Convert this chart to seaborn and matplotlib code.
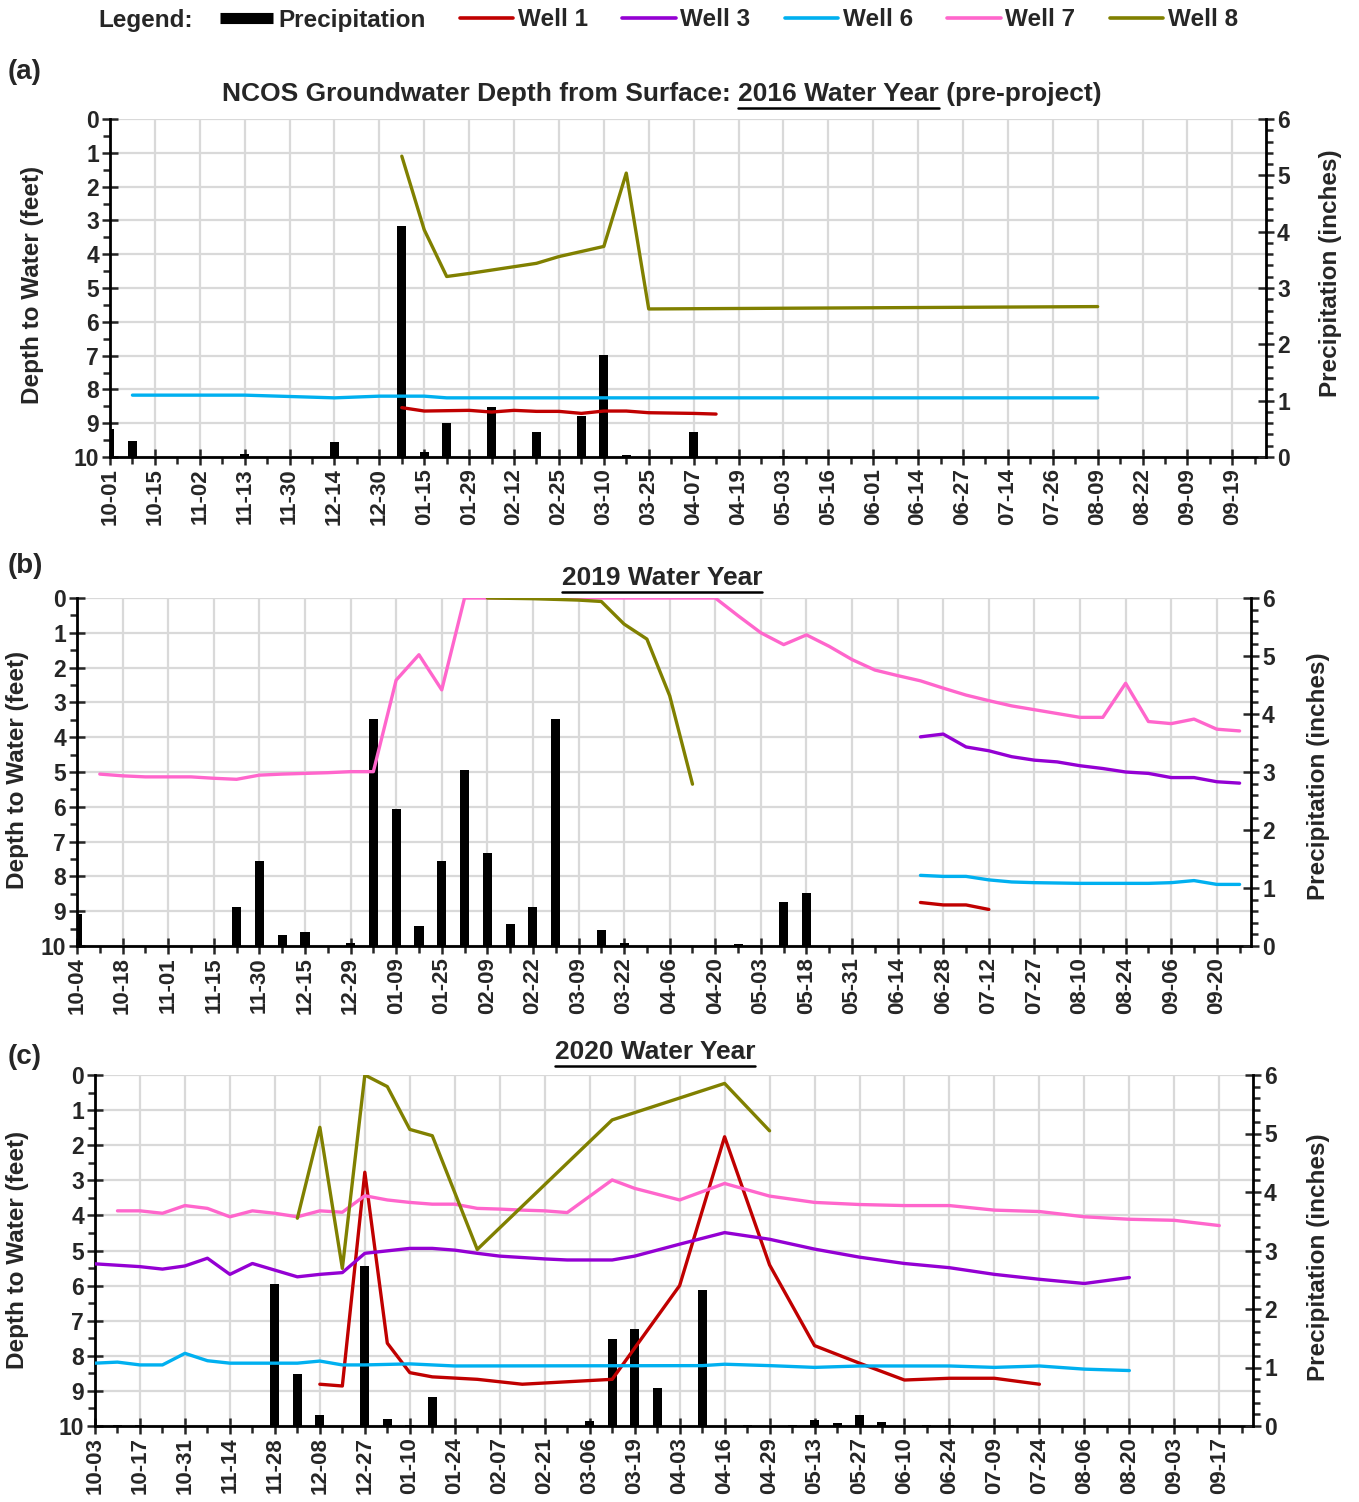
import numpy as np
import pandas as pd
import matplotlib
matplotlib.use("Agg")
import matplotlib.pyplot as plt
import seaborn as sns
from matplotlib.lines import Line2D
from matplotlib.ticker import MultipleLocator, FixedLocator

sns.set_theme(style="ticks")
plt.rcParams["font.family"] = ["Liberation Sans", "DejaVu Sans"]
plt.rcParams["font.weight"] = "bold"

# ---------------- data ----------------
# tick labels (every other sampling period is labelled)
A_LABELS = ["10-01", "10-15", "11-02", "11-13", "11-30", "12-14", "12-30", "01-15", "01-29",
            "02-12", "02-25", "03-10", "03-25", "04-07", "04-19", "05-03", "05-16", "06-01",
            "06-14", "06-27", "07-14", "07-26", "08-09", "08-22", "09-09", "09-19"]
B_LABELS = ["10-04", "10-18", "11-01", "11-15", "11-30", "12-15", "12-29", "01-09", "01-25",
            "02-09", "02-22", "03-09", "03-22", "04-06", "04-20", "05-03", "05-18", "05-31",
            "06-14", "06-28", "07-12", "07-27", "08-10", "08-24", "09-06", "09-20"]
C_LABELS = ["10-03", "10-17", "10-31", "11-14", "11-28", "12-08", "12-27", "01-10", "01-24",
            "02-07", "02-21", "03-06", "03-19", "04-03", "04-16", "04-29", "05-13", "05-27",
            "06-10", "06-24", "07-09", "07-24", "08-06", "08-20", "09-03", "09-17"]

# precipitation (inches) per sampling period (52 periods)
A_PRECIP = [0.5, 0.29, 0, 0, 0, 0, 0.06, 0, 0, 0,
            0.26, 0, 0, 4.1, 0.09, 0.6, 0, 0.88, 0, 0.45,
            0, 0.72, 1.81, 0.03, 0, 0, 0.45, 0, 0, 0,
            0.02, 0, 0, 0, 0, 0, 0, 0, 0, 0,
            0, 0, 0, 0, 0, 0, 0, 0, 0, 0,
            0, 0]
B_PRECIP = [0.55, 0, 0, 0, 0, 0, 0, 0.67, 1.47, 0.19,
            0.25, 0, 0.06, 3.92, 2.36, 0.35, 1.47, 3.04, 1.6, 0.38,
            0.67, 3.92, 0, 0.28, 0.05, 0, 0, 0, 0, 0.04,
            0, 0.76, 0.92, 0, 0, 0, 0, 0, 0, 0,
            0, 0, 0, 0, 0, 0, 0, 0, 0, 0,
            0, 0]
C_PRECIP = [0, 0.02, 0.02, 0, 0, 0, 0, 0, 2.42, 0.89,
            0.19, 0, 2.74, 0.12, 0.02, 0.5, 0, 0, 0, 0,
            0, 0, 0.08, 1.48, 1.66, 0.65, 0, 2.32, 0, 0.01,
            0, 0.01, 0.1, 0.05, 0.19, 0.07, 0, 0.01, 0.02, 0,
            0, 0, 0, 0, 0, 0, 0, 0, 0, 0,
            0, 0]

# well depths (feet below surface): sampling period index + value
A_W1_IDX = [13, 14, 16, 17, 18, 19, 20, 21, 22, 23, 24, 26, 27]
A_W1 = [8.54, 8.64, 8.62, 8.67, 8.62, 8.65, 8.65, 8.71, 8.64, 8.64, 8.69, 8.71, 8.73]
A_W6_IDX = [1, 6, 9, 10, 12, 14, 15, 44]
A_W6 = [8.17, 8.17, 8.23, 8.25, 8.2, 8.2, 8.25, 8.25]
A_W8_IDX = [13, 14, 15, 16, 17, 18, 19, 20, 21, 22, 23, 24, 44]
A_W8 = [1.1, 3.28, 4.66, 4.57, 4.47, 4.37, 4.27, 4.07, 3.92, 3.77, 1.6, 5.62, 5.55]

B_W1_IDX = [37, 38, 39, 40]
B_W1 = [8.75, 8.82, 8.82, 8.95]
B_W3_IDX = list(range(37, 52))
B_W3 = [3.99, 3.91, 4.28, 4.39, 4.56, 4.66, 4.71, 4.82, 4.9, 5.0, 5.04, 5.16, 5.16, 5.28, 5.32]
B_W6_IDX = list(range(37, 52))
B_W6 = [7.97, 8.0, 8.0, 8.1, 8.16, 8.18, 8.19, 8.2, 8.2, 8.2, 8.2, 8.18, 8.12, 8.23, 8.23]
B_W7_IDX = list(range(1, 18)) + list(range(28, 52))
B_W7 = [5.06, 5.11, 5.14, 5.14, 5.14, 5.18, 5.21, 5.09, 5.06, 5.04, 5.02, 4.99, 4.99,
        2.36, 1.63, 2.64, 0.0,
        0.0, 0.51, 1.0, 1.34, 1.06, 1.39, 1.77, 2.07, 2.23, 2.38, 2.59, 2.79, 2.95, 3.1,
        3.21, 3.32, 3.43, 3.43, 2.45, 3.55, 3.61, 3.48, 3.77, 3.82]
B_W8_IDX = [18, 20, 22, 23, 24, 25, 26, 27]
B_W8 = [0.0, 0.02, 0.06, 0.1, 0.75, 1.18, 2.81, 5.35]

C_W1_IDX = [10, 11, 12, 13, 14, 15, 17, 19, 21, 23, 26, 28, 30, 32, 34, 36, 38, 40, 42]
C_W1 = [8.81, 8.86, 2.77, 7.64, 8.48, 8.6, 8.67, 8.81, 8.74, 8.67, 6.0, 1.76, 5.41, 7.71,
        8.21, 8.69, 8.64, 8.64, 8.81]
C_W3_IDX = [0, 2, 3, 4, 5, 6, 7, 8, 9, 10, 11, 12, 13, 14, 15, 16, 17, 18, 19, 20, 21, 23,
            24, 26, 28, 30, 32, 34, 36, 38, 40, 42, 44, 46]
C_W3 = [5.38, 5.46, 5.53, 5.44, 5.22, 5.68, 5.37, 5.56, 5.75, 5.68, 5.63, 5.08, 5.01, 4.94,
        4.94, 4.99, 5.08, 5.16, 5.2, 5.24, 5.27, 5.27, 5.16, 4.82, 4.49, 4.68, 4.96, 5.19,
        5.37, 5.49, 5.68, 5.82, 5.94, 5.77]
C_W6_IDX = [0, 1, 2, 3, 4, 5, 6, 9, 10, 11, 12, 14, 16, 27, 28, 30, 32, 34, 36, 38, 40, 42, 44, 46]
C_W6 = [8.21, 8.18, 8.26, 8.26, 7.93, 8.14, 8.21, 8.21, 8.15, 8.26, 8.26, 8.23, 8.29, 8.28,
        8.24, 8.28, 8.33, 8.29, 8.29, 8.29, 8.33, 8.29, 8.38, 8.42]
C_W7_IDX = [1, 2, 3, 4, 5, 6, 7, 8, 9, 10, 11, 12, 13, 14, 15, 16, 17, 18, 19, 20, 21, 23, 24,
            26, 28, 30, 32, 34, 36, 38, 40, 42, 44, 46, 48, 50]
C_W7 = [3.87, 3.87, 3.94, 3.72, 3.8, 4.04, 3.87, 3.94, 4.04, 3.87, 3.91, 3.44, 3.56, 3.63,
        3.68, 3.68, 3.8, 3.82, 3.85, 3.87, 3.92, 2.99, 3.23, 3.56, 3.09, 3.45, 3.63, 3.69,
        3.72, 3.72, 3.85, 3.89, 4.04, 4.11, 4.14, 4.29]
C_W8_IDX = [9, 10, 11, 12, 13, 14, 15, 17, 23, 28, 30]
C_W8 = [4.08, 1.49, 5.51, 0.0, 0.33, 1.55, 1.73, 4.97, 1.28, 0.24, 1.59]

COLORS = {"Well 1": "#C00000", "Well 3": "#9400D3", "Well 6": "#00B0F0",
          "Well 7": "#FF66CC", "Well 8": "#808000"}

# ---------------- figure ----------------
W, H = 1359, 1502
fig = plt.figure(figsize=(W / 100, H / 100), dpi=100)
FS = 16        # tick labels
FS_LAB = 17.5  # axis titles
FS_TTL = 19    # panel titles
FS_LEG = 17.5
GRID = "#d9d9d9"


def rect(l, r, t, b):
    return [l / W, 1 - b / H, (r - l) / W, (b - t) / H]


def panel(box, labels, precip, wells):
    ax = fig.add_axes(box)
    ax2 = ax.twinx()
    ax3 = ax.twinx()
    n = len(precip)
    dfp = pd.DataFrame({"period": np.arange(n), "precip": precip})
    sns.barplot(data=dfp, x="period", y="precip", native_scale=True, width=0.4,
                color="black", saturation=1, linewidth=0, errorbar=None, ax=ax2)
    for name, idx, vals in wells:
        dfw = pd.DataFrame({"period": idx, "depth": vals})
        sns.lineplot(data=dfw, x="period", y="depth", color=COLORS[name], linewidth=2.4,
                     ax=ax3, legend=False)
    for a in (ax, ax2, ax3):
        a.set_xlim(0, 51.5)
        a.set_xlabel("")
        a.set_ylabel("")
    ax.set_ylim(10, 0)
    ax3.set_ylim(10, 0)
    ax2.set_ylim(0, 6)
    ax3.set_axis_off()
    # x axis
    ax.xaxis.set_major_locator(FixedLocator(np.arange(0, 2 * len(labels), 2)))
    ax.xaxis.set_minor_locator(FixedLocator(np.arange(1, n, 2)))
    ax.set_xticklabels(labels, rotation=90, fontsize=FS, fontweight="bold")
    ax.yaxis.set_major_locator(FixedLocator(np.arange(0, 11)))
    ax.yaxis.set_minor_locator(MultipleLocator(0.5))
    ax.set_yticklabels([str(v) for v in range(11)], fontsize=FS + 0.5, fontweight="bold")
    ax.tick_params(axis="x", which="major", direction="inout", length=12, width=1.8, pad=2)
    ax.tick_params(axis="x", which="minor", direction="out", length=5, width=1.8)
    ax.tick_params(axis="y", which="major", direction="inout", length=12, width=1.8, pad=2)
    ax.tick_params(axis="y", which="minor", direction="out", length=5, width=1.8)
    ax.grid(True, which="major", color=GRID, linewidth=1.6)
    ax.set_axisbelow(True)
    for s in ("top", "right"):
        ax.spines[s].set_visible(False)
    for s in ("left", "bottom"):
        ax.spines[s].set_linewidth(2)
        ax.spines[s].set_color("black")
    # right axis
    ax2.yaxis.set_major_locator(FixedLocator(np.arange(0, 7)))
    ax2.yaxis.set_minor_locator(MultipleLocator(0.2))
    ax2.set_yticklabels([str(v) for v in range(7)], fontsize=FS + 0.5, fontweight="bold")
    ax2.tick_params(axis="y", which="major", direction="inout", length=12, width=1.8, pad=2)
    ax2.tick_params(axis="y", which="minor", direction="out", length=5, width=1.8)
    ax2.grid(False)
    for s in ("top", "left", "bottom"):
        ax2.spines[s].set_visible(False)
    ax2.spines["right"].set_linewidth(2)
    ax2.spines["right"].set_color("black")
    ax2.tick_params(axis="x", which="both", bottom=False, labelbottom=False)
    return ax


axA = panel(rect(110, 1266, 119, 457), A_LABELS, A_PRECIP,
            [("Well 1", A_W1_IDX, A_W1), ("Well 6", A_W6_IDX, A_W6), ("Well 8", A_W8_IDX, A_W8)])
axB = panel(rect(77, 1251, 598, 946), B_LABELS, B_PRECIP,
            [("Well 1", B_W1_IDX, B_W1), ("Well 3", B_W3_IDX, B_W3), ("Well 6", B_W6_IDX, B_W6),
             ("Well 7", B_W7_IDX, B_W7), ("Well 8", B_W8_IDX, B_W8)])
axC = panel(rect(95, 1253, 1075, 1426), C_LABELS, C_PRECIP,
            [("Well 1", C_W1_IDX, C_W1), ("Well 3", C_W3_IDX, C_W3), ("Well 6", C_W6_IDX, C_W6),
             ("Well 7", C_W7_IDX, C_W7), ("Well 8", C_W8_IDX, C_W8)])


def fx(x):
    return x / W


def fy(y):
    return 1 - y / H


# axis titles
for (x, y) in [(33, 285), (18, 770), (18, 1250)]:
    fig.text(fx(x), fy(y), "Depth to Water (feet)", rotation=90, ha="center", va="center",
             fontsize=FS_LAB, fontweight="bold")
for (x, y) in [(1330, 273), (1318, 776), (1318, 1257)]:
    fig.text(fx(x), fy(y), "Precipitation (inches)", rotation=90, ha="center", va="center",
             fontsize=FS_LAB, fontweight="bold")

# panel letters
for (txt, y) in [("(a)", 72), ("(b)", 566), ("(c)", 1057)]:
    fig.text(fx(8), fy(y), txt, ha="left", va="center", fontsize=20, fontweight="bold")

# titles with underline
fig.canvas.draw()
renderer = fig.canvas.get_renderer()


def text_width(s, fs):
    t = fig.text(0, 0, s, fontsize=fs, fontweight="bold")
    w = t.get_window_extent(renderer).width
    t.remove()
    return w


def titled(cx, cy, full, under):
    t = fig.text(fx(cx), fy(cy), full, ha="center", va="center", fontsize=FS_TTL,
                 fontweight="bold")
    bb = t.get_window_extent(renderer)
    i = full.index(under)
    rest = full[i + len(under):]
    x0 = bb.x1 - text_width(full[i:], FS_TTL)
    if rest.strip():
        x1 = bb.x1 - text_width(rest.strip(), FS_TTL) - (text_width("a a", FS_TTL)
                                                          - text_width("aa", FS_TTL))
    else:
        x1 = bb.x1
    yb = bb.y0 - 1.5
    fig.add_artist(Line2D([x0 / W, x1 / W], [yb / H, yb / H], transform=fig.transFigure,
                          color="black", linewidth=1.8))


titled(662, 94, "NCOS Groundwater Depth from Surface: 2016 Water Year (pre-project)",
       "2016 Water Year")
titled(662, 578, "2019 Water Year", "2019 Water Year")
titled(655, 1052, "2020 Water Year", "2020 Water Year")

# legend
fig.text(fx(98), fy(20), "Legend:", ha="left", va="center", fontsize=FS_LEG, fontweight="bold")
handles = [Line2D([], [], color="black", linewidth=8, solid_capstyle="butt")]
names = ["Precipitation", "Well 1", "Well 3", "Well 6", "Well 7", "Well 8"]
for nm in names[1:]:
    handles.append(Line2D([], [], color=COLORS[nm], linewidth=2.6))
fig.legend(handles, names, loc="center", bbox_to_anchor=(fx(729), fy(20)), ncol=6,
           frameon=False, handlelength=2.2, handletextpad=0.2, columnspacing=1.4,
           prop={"size": FS_LEG, "weight": "bold"})

fig.savefig("out.png", dpi=100)
